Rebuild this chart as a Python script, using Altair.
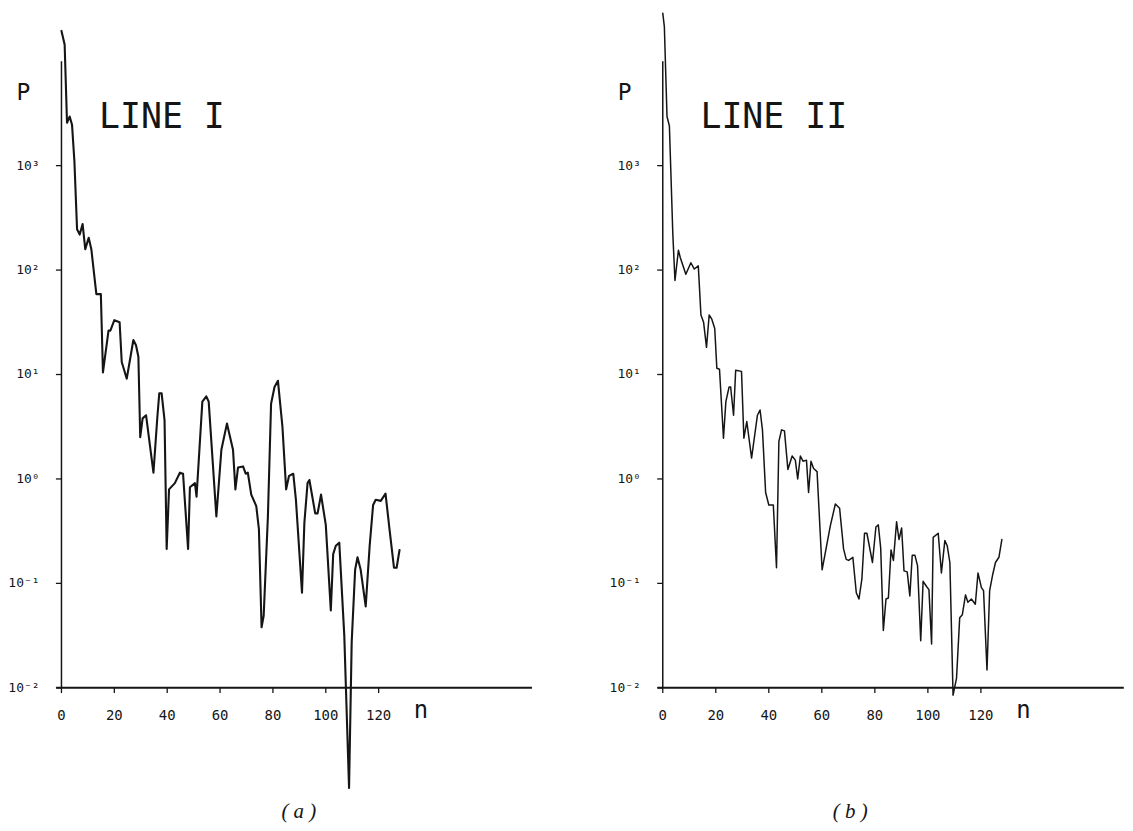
import altair as alt
import pandas as pd

# ---- data: n and log10(P) at the curve's vertices ----
n_line1 = [0, 1.2, 2.1, 3.1, 4.0, 4.9, 5.9, 6.9, 8.0, 9.0, 10.3, 11.3, 13.2, 14.9, 15.7,
           17.8, 18.5, 20.0, 22.0, 22.8, 24.7, 27.2, 28.2, 29.1, 29.8, 30.7, 32.0, 34.8,
           36.3, 37.0, 37.9, 39.0, 39.8, 40.7, 42.9, 44.8, 46.0, 47.9, 48.6, 50.5, 51.1,
           53.3, 54.8, 55.7, 58.6, 60.5, 62.6, 64.9, 65.8, 66.8, 68.7, 69.7, 70.5, 71.8,
           73.7, 74.7, 75.7, 76.5, 78.1, 79.3, 80.6, 81.9, 83.6, 85.0, 86.1, 87.7, 88.7,
           91.0, 91.9, 93.1, 93.8, 96.0, 96.9, 98.2, 100.0, 101.9, 102.8, 103.8, 105.1,
           107.0, 108.8, 109.8, 111.1, 112.0, 113.2, 115.1, 116.6, 117.9, 118.9, 120.8,
           122.6, 124.1, 125.8, 126.8, 127.9]
logp_line1 = [4.29, 4.16, 3.41, 3.47, 3.39, 3.04, 2.39, 2.34, 2.44, 2.20, 2.31, 2.20, 1.77, 1.77, 1.02,
              1.42, 1.42, 1.52, 1.50, 1.12, 0.96, 1.33, 1.28, 1.17, 0.40, 0.58, 0.61, 0.06,
              0.60, 0.82, 0.82, 0.56, -0.67, -0.10, -0.04, 0.06, 0.05, -0.67, -0.08, -0.04, -0.17,
              0.74, 0.79, 0.74, -0.36, 0.28, 0.53, 0.28, -0.10, 0.11, 0.12, 0.05, 0.06, -0.15,
              -0.26, -0.48, -1.42, -1.31, -0.36, 0.72, 0.88, 0.94, 0.50, -0.10, 0.03, 0.05, -0.20,
              -1.09, -0.42, -0.04, -0.01, -0.33, -0.33, -0.15, -0.44, -1.26, -0.72, -0.64, -0.61,
              -1.50, -2.96, -1.56, -0.87, -0.75, -0.87, -1.22, -0.64, -0.25, -0.20, -0.21,
              -0.14, -0.48, -0.85, -0.85, -0.68]

n_line2 = [0, 0.6, 1.6, 2.5, 3.8, 4.6, 5.9, 6.6, 8.7, 10.6, 11.9, 13.4, 14.4, 15.4, 16.5,
           17.5, 18.5, 19.6, 20.4, 21.4, 22.9, 23.8, 25.0, 25.6, 26.7, 27.5, 29.7, 30.6,
           31.7, 33.5, 35.7, 36.7, 37.6, 38.8, 40.0, 41.7, 42.9, 43.8, 44.8, 45.9, 47.2,
           48.8, 50.0, 50.9, 51.9, 52.9, 54.2, 55.0, 55.9, 56.9, 58.2, 60.1, 63.2, 65.1,
           66.7, 68.2, 69.2, 70.1, 71.7, 73.0, 74.0, 75.1, 76.1, 77.0, 79.1, 80.4, 81.3,
           82.2, 83.2, 84.2, 85.1, 86.1, 87.0, 88.2, 89.1, 90.1, 91.0, 92.2, 93.2, 94.1,
           95.1, 96.1, 97.3, 98.2, 99.5, 100.4, 101.4, 102.0, 103.9, 105.1, 106.4, 107.3,
           108.3, 109.5, 110.8, 112.0, 113.0, 114.2, 115.1, 116.4, 117.9, 118.9, 120.2,
           121.0, 122.3, 123.3, 124.5, 125.5, 126.8, 127.9]
logp_line2 = [4.46, 4.33, 3.47, 3.38, 2.34, 1.90, 2.19, 2.12, 1.96, 2.07, 2.01, 2.04, 1.57, 1.50, 1.26,
              1.57, 1.53, 1.44, 1.06, 1.05, 0.39, 0.74, 0.88, 0.88, 0.61, 1.04, 1.03, 0.39,
              0.55, 0.20, 0.61, 0.66, 0.47, -0.13, -0.25, -0.25, -0.85, 0.36, 0.47, 0.46, 0.09,
              0.22, 0.18, 0.00, 0.22, 0.17, 0.18, -0.13, 0.17, 0.10, 0.07, -0.87, -0.45, -0.24,
              -0.28, -0.67, -0.77, -0.78, -0.75, -1.09, -1.15, -0.96, -0.52, -0.52, -0.80, -0.46, -0.44,
              -0.66, -1.45, -1.15, -1.14, -0.68, -0.78, -0.41, -0.58, -0.47, -0.88, -0.89, -1.12, -0.73,
              -0.73, -0.83, -1.55, -0.98, -1.03, -1.06, -1.58, -0.56, -0.52, -0.90, -0.59, -0.64,
              -0.80, -2.07, -1.91, -1.33, -1.30, -1.11, -1.18, -1.15, -1.20, -0.90, -1.04,
              -1.07, -1.83, -1.07, -0.91, -0.80, -0.75, -0.58]

x_ticks = [0, 20, 40, 60, 80, 100, 120]
x_tick_labels = ["0", "20", "40", "60", "80", "100", "120"]
y_tick_exps = [-2, -1, 0, 1, 2, 3]
y_tick_labels = ["10⁻²", "10⁻¹", "10⁰", "10¹", "10²", "10³"]
titles = ["LINE I", "LINE II"]
captions = ["( a )", "( b )"]
x_name = "n"
y_name = "P"

# ---- layout ----
Y_DOM = [10 ** -3.277, 10 ** 4.492]
HEIGHT = 815
MONO = "DejaVu Sans Mono"
INK = "#151515"


def panel(n_vals, logp, xdom, width, title, caption, caption_n, stroke_w, axis_end):
    xs = alt.Scale(domain=xdom, nice=False, zero=False)
    ys = alt.Scale(type="log", domain=Y_DOM, nice=False)

    def X(f):
        return alt.X(f, scale=xs, axis=None)

    def Y(f):
        return alt.Y(f, scale=ys, axis=None)

    df = pd.DataFrame({"n": n_vals, "P": [10 ** v for v in logp], "i": range(len(n_vals))})
    line = alt.Chart(df).mark_line(
        color=INK, strokeWidth=stroke_w, strokeJoin="round", strokeCap="round"
    ).encode(x=X("n:Q"), y=Y("P:Q"), order="i:Q")

    # axis lines
    seg = pd.DataFrame({
        "x": [0, -2.0],
        "x2": [0, axis_end],
        "y": [1e-2, 1e-2],
        "y2": [1e4, 1e-2],
        "w": [1.5, 2.0],
    })
    axes = alt.Chart(seg).mark_rule(color=INK).encode(
        x=X("x:Q"), x2="x2:Q", y=Y("y:Q"), y2="y2:Q",
        strokeWidth=alt.StrokeWidth("w:Q", scale=None),
    )

    ticks_df = pd.DataFrame(
        [{"x": -2.1, "x2": 0, "y": 10.0 ** e, "y2": 10.0 ** e} for e in y_tick_exps]
        + [{"x": t, "x2": t, "y": 1e-2, "y2": 10 ** -2.05} for t in x_ticks]
    )
    ticks = alt.Chart(ticks_df).mark_rule(color=INK, strokeWidth=1.3).encode(
        x=X("x:Q"), x2="x2:Q", y=Y("y:Q"), y2="y2:Q"
    )

    ylab_df = pd.DataFrame({"x": [-8.3] * len(y_tick_exps),
                            "y": [10.0 ** e for e in y_tick_exps],
                            "t": y_tick_labels})
    ylab = alt.Chart(ylab_df).mark_text(
        align="right", baseline="middle", font=MONO, fontSize=13, color=INK
    ).encode(x=X("x:Q"), y=Y("y:Q"), text="t:N")

    xlab_df = pd.DataFrame({"x": x_ticks, "y": [10 ** -2.267] * len(x_ticks), "t": x_tick_labels})
    xlab = alt.Chart(xlab_df).mark_text(
        align="center", baseline="middle", font=MONO, fontSize=14, color=INK
    ).encode(x=X("x:Q"), y=Y("y:Q"), text="t:N")

    nlab = alt.Chart(pd.DataFrame({"x": [136], "y": [10 ** -2.22], "t": [x_name]})).mark_text(
        align="center", baseline="middle", font=MONO, fontSize=24, color=INK
    ).encode(x=X("x:Q"), y=Y("y:Q"), text="t:N")

    plab = alt.Chart(pd.DataFrame({"x": [-14.4], "y": [10 ** 3.70], "t": [y_name]})).mark_text(
        align="center", baseline="middle", font=MONO, fontSize=23, color=INK
    ).encode(x=X("x:Q"), y=Y("y:Q"), text="t:N")

    tlab = alt.Chart(pd.DataFrame({"x": [14.2], "y": [10 ** 3.467], "t": [title]})).mark_text(
        align="left", baseline="middle", font=MONO, fontSize=35, color=INK
    ).encode(x=X("x:Q"), y=Y("y:Q"), text="t:N")

    clab = alt.Chart(pd.DataFrame({"x": [caption_n], "y": [10 ** -3.19], "t": [caption]})).mark_text(
        align="center", baseline="middle", font="Liberation Serif", fontStyle="italic",
        fontSize=21, color=INK
    ).encode(x=X("x:Q"), y=Y("y:Q"), text="t:N")

    return alt.layer(axes, ticks, line, ylab, xlab, nlab, plab, tlab, clab).properties(
        width=width, height=HEIGHT
    )


left = panel(n_line1, logp_line1, [-18.72, 181.65], 532, titles[0], captions[0], 89.8, 2.1, 178)
right = panel(n_line2, logp_line2, [-23.17, 173.98], 525, titles[1], captions[1], 70.7, 1.5, 173.9)

chart = alt.hconcat(left, right, spacing=60).properties(
    padding={"left": 0, "top": 0, "right": 0, "bottom": 0}
).configure_view(stroke=None)

chart.save("out.html", embed_options={"renderer": "svg", "actions": False})
